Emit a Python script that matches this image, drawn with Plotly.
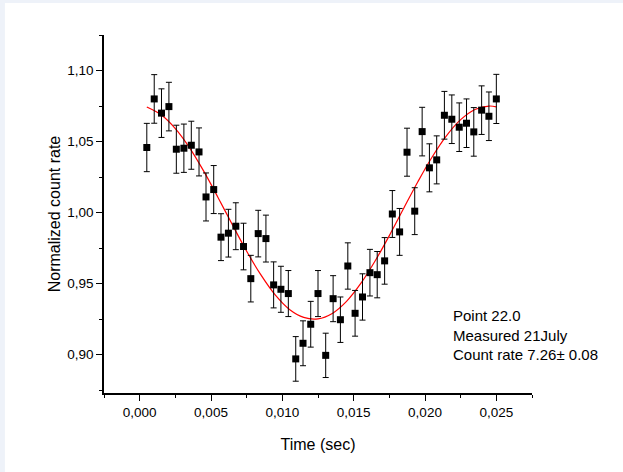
import plotly.graph_objects as go

time_s = [0.00050, 0.00102, 0.00153, 0.00205, 0.00257, 0.00310, 0.00362, 0.00416,
          0.00465, 0.00519, 0.00570, 0.00622, 0.00674, 0.00728, 0.00779, 0.00831,
          0.00885, 0.00939, 0.00990, 0.01042, 0.01094, 0.01145, 0.01199, 0.01250,
          0.01304, 0.01356, 0.01407, 0.01459, 0.01510, 0.01562, 0.01614, 0.01665,
          0.01717, 0.01771, 0.01822, 0.01874, 0.01928, 0.01980, 0.02031, 0.02082,
          0.02136, 0.02188, 0.02240, 0.02291, 0.02342, 0.02397, 0.02448, 0.02500]
count_rate = [1.0458, 1.0800, 1.0700, 1.0746, 1.0446, 1.0453, 1.0474, 1.0427,
              1.0110, 1.0162, 0.9827, 0.9855, 0.9904, 0.9761, 0.9535, 0.9852,
              0.9817, 0.9491, 0.9460, 0.9430, 0.8970, 0.9080, 0.9214, 0.9430,
              0.8995, 0.9394, 0.9246, 0.9624, 0.9291, 0.9406, 0.9577, 0.9563,
              0.9660, 0.9990, 0.9864, 1.0425, 1.0010, 1.0570, 1.0315, 1.0371,
              1.0685, 1.0657, 1.0601, 1.0629, 1.0568, 1.0721, 1.0678, 1.0800]
count_err = [0.0170, 0.0171, 0.0171, 0.0171, 0.0169, 0.0170, 0.0169, 0.0169,
             0.0169, 0.0169, 0.0165, 0.0168, 0.0165, 0.0164, 0.0164, 0.0164,
             0.0165, 0.0162, 0.0162, 0.0162, 0.0157, 0.0158, 0.0161, 0.0162,
             0.0156, 0.0162, 0.0160, 0.0163, 0.0161, 0.0163, 0.0164, 0.0163,
             0.0164, 0.0165, 0.0165, 0.0169, 0.0165, 0.0171, 0.0169, 0.0169,
             0.0168, 0.0171, 0.0171, 0.0171, 0.0171, 0.0171, 0.0171, 0.0173]

# Fit curve
fit_time = [0.0005, 0.0015, 0.0025, 0.0035, 0.0045, 0.0055, 0.0065, 0.0075, 0.0085,
            0.0095, 0.0105, 0.0115, 0.0125, 0.0135, 0.0145, 0.0155, 0.0165, 0.0175,
            0.0185, 0.0195, 0.0205, 0.0215, 0.0225, 0.0235, 0.0245, 0.0250]
fit_rate = [1.0743, 1.0688, 1.0591, 1.0456, 1.0290, 1.0105, 0.9914, 0.9728, 0.9561,
            0.9420, 0.9318, 0.9262, 0.9252, 0.9290, 0.9375, 0.9501, 0.9659, 0.9838,
            1.0029, 1.0217, 1.0391, 1.0540, 1.0654, 1.0726, 1.0750, 1.0744]

x_ticks = [0.000, 0.005, 0.010, 0.015, 0.020, 0.025]
y_ticks = [0.90, 0.95, 1.00, 1.05, 1.10]

FONT = "Liberation Sans, Arial, sans-serif"

fig = go.Figure()
fig.add_trace(go.Scatter(
    x=fit_time, y=fit_rate, mode="lines", line=dict(color="#ff0000", width=1.2, shape="spline"),
    hoverinfo="skip", showlegend=False))
fig.add_trace(go.Scatter(
    x=time_s, y=count_rate, mode="markers",
    marker=dict(symbol="square", size=7, color="black"),
    error_y=dict(type="data", array=count_err, visible=True, color="black", thickness=1, width=3),
    showlegend=False))

fig.add_annotation(
    x=0.02179, y=0.9135, xref="x", yref="y", xanchor="left", yanchor="middle", align="left",
    text="Point 22.0<br>Measured 21July<br>Count rate 7.26± 0.08", showarrow=False,
    font=dict(family=FONT, size=15, color="black"))

# light frame strips at left and top
fig.add_shape(type="rect", xref="paper", yref="paper", x0=-0.26, x1=-0.2315, y0=-0.3, y1=1.2,
              fillcolor="#EEF2F9", line=dict(width=0), layer="below")
fig.add_shape(type="rect", xref="paper", yref="paper", x0=-0.26, x1=1.3, y0=1.0894, y1=1.2,
              fillcolor="#EEF2F9", line=dict(width=0), layer="below")

fig.update_layout(
    width=623, height=472,
    margin=dict(l=104, r=91, t=35, b=79),
    paper_bgcolor="white", plot_bgcolor="white",
    separators=",.",
    font=dict(family=FONT, color="black"),
    xaxis=dict(
        range=[-0.0025, 0.0275], tickvals=x_ticks, tickformat=".3f",
        showline=True, linecolor="black", linewidth=1.5, mirror=False,
        ticks="outside", ticklen=6, tickwidth=1.2, tickcolor="black",
        minor=dict(dtick=0.0025, tick0=0, ticks="outside", ticklen=3, tickcolor="black", tickwidth=1.2),
        showgrid=False, zeroline=False,
        tickfont=dict(size=13.5),
        title=dict(text="Time (sec)", font=dict(size=16), standoff=20),
    ),
    yaxis=dict(
        range=[0.873, 1.125], tickvals=y_ticks, tickformat=".2f",
        showline=True, linecolor="black", linewidth=1.5, mirror=False,
        ticks="outside", ticklen=6, tickwidth=1.2, tickcolor="black",
        minor=dict(dtick=0.025, tick0=0.9, ticks="outside", ticklen=3, tickcolor="black", tickwidth=1.2),
        showgrid=False, zeroline=False,
        tickfont=dict(size=13.5),
        title=dict(text="Normalized count rate", font=dict(size=16), standoff=3),
    ),
)

fig.write_html("out.html")
